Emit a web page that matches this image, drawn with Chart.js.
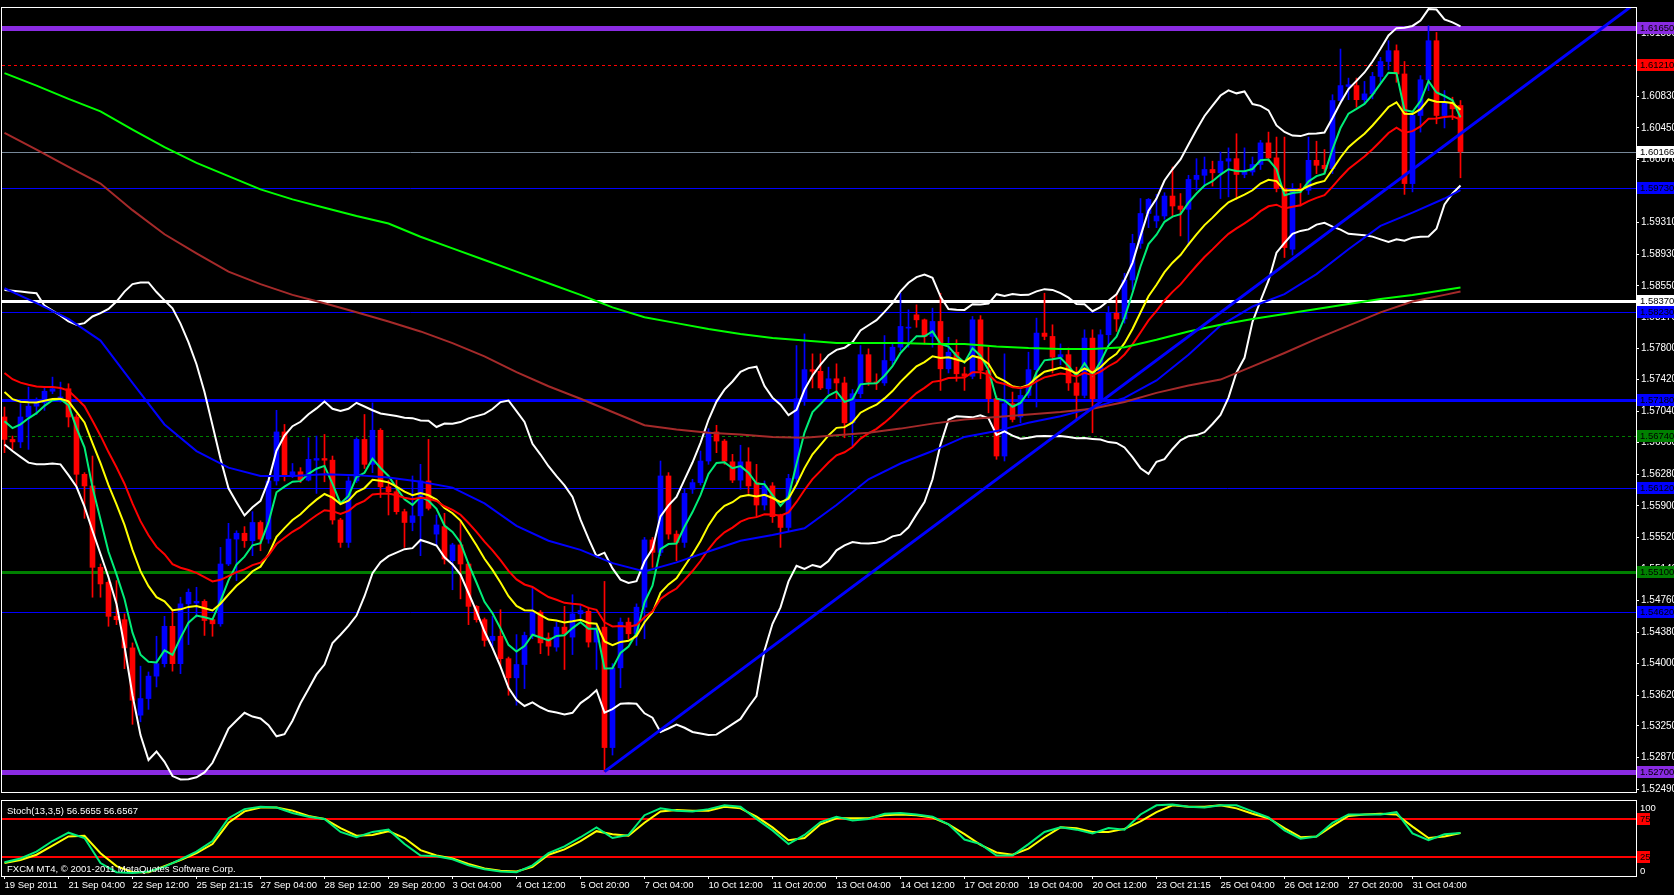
<!DOCTYPE html>
<html>
<head>
<meta charset="utf-8">
<script src="https://cdn.jsdelivr.net/npm/chart.js@4.4.0/dist/chart.umd.min.js"></script>
<style>
html, body { margin: 0; padding: 0; background: #000; overflow: hidden; }
#wrap { position: relative; width: 1674px; height: 895px; }
#main { position: absolute; left: 0; top: 0; }
#stoch { position: absolute; left: 0; top: 800px; }
</style>
</head>
<body>
<div id="wrap">
  <canvas id="main" width="1674" height="800"></canvas>
  <canvas id="stoch" width="1674" height="95"></canvas>
</div>
<script>
/*
GBPUSD H4 - MT4 style chart
candles + EMA 5/13/21 + BB(20,2) + Stoch(13,3,5)
*/

// H4 candles, one value per bar
var opens = [
  1.5697,1.5670,1.5667,1.5697,1.5710,1.5714,1.5728,1.5720,1.5731,1.5697,
  1.5628,1.5614,1.5516,1.5498,1.5457,1.5453,1.5419,1.5338,1.5358,1.5385,
  1.5400,1.5445,1.5400,1.5472,1.5473,1.5475,1.5453,1.5448,1.5520,1.5550,
  1.5557,1.5548,1.5570,1.5550,1.5620,1.5679,1.5627,1.5631,1.5621,1.5645,
  1.5647,1.5645,1.5573,1.5546,1.5620,1.5670,1.5640,1.5681,1.5613,1.5607,
  1.5583,1.5570,1.5578,1.5620,1.5556,1.5565,1.5524,1.5543,1.5520,1.5469,
  1.5453,1.5428,1.5433,1.5406,1.5383,1.5399,1.5434,1.5462,1.5431,1.5420,
  1.5444,1.5432,1.5460,1.5463,1.5426,1.5444,1.5299,1.5395,1.5450,1.5436,
  1.5468,1.5549,1.5534,1.5626,1.5556,1.5546,1.5610,1.5618,1.5644,1.5679,
  1.5668,1.5643,1.5621,1.5643,1.5618,1.5591,1.5614,1.5579,1.5564,1.5623,
  1.5719,1.5754,1.5752,1.5731,1.5743,1.5738,1.5690,1.5725,1.5772,1.5739,
  1.5738,1.5765,1.5781,1.5804,1.5820,1.5814,1.5794,1.5812,1.5755,1.5775,
  1.5749,1.5746,1.5814,1.5753,1.5719,1.5650,1.5713,1.5697,1.5723,1.5754,
  1.5798,1.5794,1.5769,1.5772,1.5738,1.5723,1.5792,1.5719,1.5796,1.5822,
  1.5815,1.5862,1.5906,1.5942,1.5933,1.5939,1.5963,1.5951,1.5947,1.5983,
  1.5988,1.5995,1.5991,1.6005,1.6008,1.5989,1.5992,1.6001,1.6027,1.6009,
  1.5972,1.5899,1.5972,1.5970,1.6006,1.6000,1.5996,1.6078,1.6095,1.6096,
  1.6079,1.6086,1.6107,1.6125,1.6138,1.6110,1.5978,1.6060,1.6103,1.6150,
  1.6060,1.6075,1.6072
];
var highs = [
  1.5709,1.5674,1.5713,1.5733,1.5720,1.5733,1.5745,1.5739,1.5737,1.5700,
  1.5630,1.5650,1.5520,1.5500,1.5500,1.5460,1.5425,1.5397,1.5390,1.5433,
  1.5457,1.5465,1.5480,1.5490,1.5492,1.5477,1.5455,1.5540,1.5569,1.5560,
  1.5565,1.5583,1.5572,1.5625,1.5705,1.5688,1.5641,1.5636,1.5672,1.5674,
  1.5676,1.5650,1.5575,1.5625,1.5672,1.5700,1.5714,1.5683,1.5621,1.5621,
  1.5586,1.5626,1.5640,1.5670,1.5579,1.5581,1.5545,1.5572,1.5522,1.5470,
  1.5455,1.5457,1.5465,1.5408,1.5435,1.5438,1.5491,1.5464,1.5437,1.5450,
  1.5469,1.5483,1.5470,1.5468,1.5448,1.5499,1.5400,1.5455,1.5455,1.5472,
  1.5552,1.5552,1.5644,1.5630,1.5560,1.5610,1.5622,1.5656,1.5683,1.5687,
  1.5670,1.5652,1.5663,1.5660,1.5640,1.5620,1.5618,1.5580,1.5628,1.5783,
  1.5797,1.5773,1.5773,1.5757,1.5761,1.5745,1.5730,1.5783,1.5779,1.5749,
  1.5795,1.5785,1.5846,1.5826,1.5832,1.5815,1.5828,1.5846,1.5793,1.5790,
  1.5757,1.5818,1.5819,1.5781,1.5722,1.5773,1.5727,1.5730,1.5775,1.5816,
  1.5846,1.5808,1.5785,1.5780,1.5757,1.5802,1.5802,1.5802,1.5830,1.5845,
  1.5870,1.5917,1.5960,1.5960,1.5965,1.5967,1.5998,1.5966,1.5988,1.6008,
  1.6010,1.6005,1.6016,1.6021,1.6038,1.6021,1.6010,1.6030,1.6040,1.6034,
  1.6034,1.5978,1.5978,1.6034,1.6029,1.6019,1.6085,1.6140,1.6105,1.6105,
  1.6101,1.6112,1.6130,1.6150,1.6145,1.6125,1.6065,1.6108,1.6168,1.6160,
  1.6090,1.6082,1.6078
];
var lows = [
  1.5654,1.5658,1.5660,1.5658,1.5700,1.5705,1.5725,1.5715,1.5685,1.5614,
  1.5575,1.5480,1.5480,1.5445,1.5447,1.5394,1.5327,1.5330,1.5345,1.5372,
  1.5396,1.5391,1.5388,1.5423,1.5456,1.5434,1.5433,1.5445,1.5518,1.5500,
  1.5540,1.5530,1.5536,1.5545,1.5615,1.5620,1.5624,1.5618,1.5620,1.5605,
  1.5619,1.5568,1.5540,1.5540,1.5618,1.5635,1.5630,1.5600,1.5579,1.5580,
  1.5540,1.5560,1.5530,1.5585,1.5543,1.5520,1.5489,1.5478,1.5447,1.5450,
  1.5421,1.5421,1.5397,1.5362,1.5350,1.5370,1.5430,1.5412,1.5410,1.5415,
  1.5393,1.5411,1.5455,1.5420,1.5393,1.5270,1.5290,1.5371,1.5430,1.5422,
  1.5430,1.5516,1.5530,1.5550,1.5524,1.5540,1.5605,1.5615,1.5640,1.5654,
  1.5640,1.5618,1.5610,1.5605,1.5577,1.5585,1.5570,1.5540,1.5560,1.5618,
  1.5711,1.5732,1.5730,1.5725,1.5719,1.5672,1.5662,1.5720,1.5735,1.5730,
  1.5735,1.5760,1.5777,1.5781,1.5805,1.5785,1.5781,1.5729,1.5750,1.5740,
  1.5729,1.5743,1.5743,1.5702,1.5646,1.5644,1.5691,1.5690,1.5720,1.5709,
  1.5790,1.5750,1.5760,1.5729,1.5694,1.5720,1.5678,1.5715,1.5785,1.5800,
  1.5810,1.5850,1.5900,1.5925,1.5925,1.5935,1.5939,1.5915,1.5903,1.5970,
  1.5975,1.5975,1.5960,1.5962,1.5959,1.5985,1.5988,1.5995,1.6005,1.5968,
  1.5889,1.5892,1.5951,1.5965,1.5990,1.5990,1.5990,1.6075,1.6079,1.6070,
  1.6075,1.6080,1.6100,1.6115,1.6100,1.5965,1.5968,1.6040,1.6090,1.6050,
  1.6045,1.6055,1.5985
];
var closes = [
  1.5670,1.5667,1.5697,1.5710,1.5714,1.5728,1.5731,1.5721,1.5697,1.5628,
  1.5614,1.5516,1.5496,1.5457,1.5453,1.5419,1.5356,1.5358,1.5385,1.5400,
  1.5445,1.5400,1.5472,1.5486,1.5475,1.5452,1.5448,1.5520,1.5550,1.5557,
  1.5548,1.5570,1.5550,1.5620,1.5679,1.5627,1.5631,1.5621,1.5646,1.5647,
  1.5645,1.5573,1.5546,1.5620,1.5670,1.5640,1.5681,1.5613,1.5607,1.5583,
  1.5570,1.5578,1.5620,1.5587,1.5567,1.5526,1.5543,1.5520,1.5469,1.5453,
  1.5428,1.5433,1.5406,1.5383,1.5399,1.5434,1.5462,1.5425,1.5421,1.5444,
  1.5436,1.5460,1.5464,1.5426,1.5442,1.5299,1.5395,1.5450,1.5436,1.5468,
  1.5549,1.5534,1.5626,1.5556,1.5546,1.5605,1.5618,1.5644,1.5679,1.5668,
  1.5644,1.5621,1.5643,1.5614,1.5591,1.5614,1.5577,1.5564,1.5623,1.5719,
  1.5754,1.5752,1.5732,1.5743,1.5738,1.5690,1.5725,1.5772,1.5739,1.5738,
  1.5765,1.5781,1.5806,1.5805,1.5814,1.5794,1.5812,1.5755,1.5775,1.5749,
  1.5746,1.5814,1.5753,1.5719,1.5650,1.5713,1.5694,1.5723,1.5754,1.5798,
  1.5794,1.5769,1.5772,1.5738,1.5723,1.5792,1.5719,1.5796,1.5822,1.5815,
  1.5862,1.5906,1.5942,1.5959,1.5939,1.5963,1.5951,1.5947,1.5983,1.5988,
  1.5995,1.5991,1.6005,1.6008,1.5989,1.5992,1.6001,1.6027,1.6009,1.5972,
  1.5901,1.5972,1.5970,1.6006,1.6000,1.5996,1.6078,1.6096,1.6097,1.6079,
  1.6086,1.6107,1.6125,1.6138,1.6110,1.5978,1.6060,1.6103,1.6150,1.6060,
  1.6075,1.6068,1.60166
];

// slow moving averages, read every 4 bars (last one on the last bar)
var maStep = 4;
var sma200 = [1.6111,1.6096,1.6080,1.6065,1.6043,1.6022,1.6003,1.5987,1.5971,1.5959,
  1.5949,1.5939,1.5930,1.5914,1.5900,1.5886,1.5872,1.5858,1.5844,1.5829,
  1.5817,1.5810,1.5803,1.5797,1.5792,1.5789,1.5786,1.5786,1.5786,1.5785,
  1.5785,1.5782,1.5780,1.5779,1.5779,1.5781,1.5790,1.5800,1.5808,1.5815,
  1.5821,1.5827,1.5833,1.5839,1.5844,1.5850,1.5853];
var ema200 = [1.6039,1.6019,1.5998,1.5978,1.5946,1.5917,1.5894,1.5872,1.5857,1.5844,
  1.5834,1.5823,1.5812,1.5800,1.5786,1.5770,1.5751,1.5734,1.5719,1.5703,
  1.5687,1.5682,1.5678,1.5676,1.5673,1.5672,1.5675,1.5678,1.5683,1.5689,
  1.5694,1.5697,1.5700,1.5703,1.5707,1.5715,1.5726,1.5735,1.5742,1.5758,
  1.5774,1.5791,1.5807,1.5823,1.5836,1.5844,1.5848];
var ema55 = [1.5852,1.5834,1.5815,1.5789,1.5738,1.5688,1.5656,1.5636,1.5626,1.5626,
  1.5628,1.5627,1.5624,1.5619,1.5612,1.5593,1.5566,1.5548,1.5537,1.5521,
  1.5511,1.5522,1.5535,1.5548,1.5555,1.5563,1.5591,1.5622,1.5641,1.5656,
  1.5673,1.5680,1.5690,1.5698,1.5708,1.5720,1.5741,1.5772,1.5807,1.5830,
  1.5845,1.5869,1.5899,1.5927,1.5943,1.5960,1.5970];

// fast EMAs: periods and their value on the first bar
var emaPeriods = [5, 13, 21];
var emaStart = [1.5692, 1.5727, 1.5750];

// Bollinger (20, 2); first 19 bars
var bbPeriod = 20, bbDev = 2;
var bbUpperHead = [1.5850,1.5849,1.5848,1.5847,1.5846,1.5831,1.5825,1.5819,1.5812,1.5808,
  1.5810,1.5818,1.5822,1.5827,1.5836,1.5848,1.5857,1.5859,1.5859];
var bbLowerHead = [1.5664,1.5656,1.5649,1.5642,1.5640,1.5640,1.5641,1.5640,1.5627,1.5613,
  1.5589,1.5560,1.5532,1.5504,1.5472,1.5421,1.5362,1.5314,1.5284];

// trendline from the 5 Oct low
var trendPoints = [[75, 1.5270], [204, 1.6196]];

// horizontal levels
var levelPrices = [1.61650, 1.61210, 1.59730, 1.58370, 1.58230, 1.57180, 1.56740, 1.56120, 1.55100, 1.54620, 1.52700];
var levelStyles = [
  {color: '#8A2BE2', width: 5},
  {color: '#FF0000', width: 1, dash: [3, 3]},
  {color: '#0000FF', width: 1},
  {color: '#FFFFFF', width: 3},
  {color: '#0000FF', width: 1},
  {color: '#0000FF', width: 3},
  {color: '#008000', width: 1, dash: [3, 3]},
  {color: '#0000FF', width: 1},
  {color: '#008000', width: 3},
  {color: '#0000FF', width: 1},
  {color: '#8A2BE2', width: 5}
];

// price axis
var priceMin = 1.52455, priceMax = 1.61894;
var priceTicks = [1.61590,1.61210,1.60830,1.60450,1.60070,1.59690,1.59310,1.58930,1.58550,1.58170,
  1.57800,1.57420,1.57040,1.56660,1.56280,1.55900,1.55520,1.55140,1.54760,1.54380,
  1.54000,1.53620,1.53250,1.52870,1.52490];

// time axis
var barsPerLabel = 8;
var dateLabels = ['19 Sep 2011','21 Sep 04:00','22 Sep 12:00','25 Sep 21:15','27 Sep 04:00','28 Sep 12:00',
  '29 Sep 20:00','3 Oct 04:00','4 Oct 12:00','5 Oct 20:00','7 Oct 04:00','10 Oct 12:00','11 Oct 20:00',
  '13 Oct 04:00','14 Oct 12:00','17 Oct 20:00','19 Oct 04:00','20 Oct 12:00','23 Oct 21:15','25 Oct 04:00',
  '26 Oct 12:00','27 Oct 20:00','31 Oct 04:00'];

// Stochastic (13,3,5), read every 2 bars
var stochStep = 2;
var stochMain = [18,23,32,46,57,50,17,5,4,6, 12,22,32,46,76,88,91,90,83,78,
  75,58,51,58,61,42,27,26,22,14, 9,6,5,14,30,39,51,64,50,54,
  80,89,86,85,88,93,91,75,60,42, 54,71,78,73,75,82,83,81,78,68,
  48,42,27,27,42,58,64,61,56,63, 61,81,93,94,91,90,93,93,85,77,
  60,49,52,70,81,81,81,84,56,47, 55,56.5655];
var stochSignal = [17,21,28,40,52,53,30,13,5,5, 13,21,30,42,70,85,90,90,86,79,
  75,63,53,54,59,50,34,27,23,16, 10,7,6,12,28,35,46,59,55,53,
  70,85,87,86,86,91,89,78,64,47, 50,68,76,76,76,80,81,80,77,68,
  55,41,31,28,36,51,64,63,58,58, 62,72,84,93,91,91,93,89,82,76,
  63,51,52,66,79,81,82,81,65,50, 52,56.6567];
var stochLevels = [75, 25];
var stochAxis = [100, 0];

var FAMILY = "'Liberation Sans', Arial, sans-serif";
var FSIZE = 9.5;
var FONT = FSIZE + 'px ' + FAMILY;
var lastBar = closes.length - 1;
var xMin = -0.3125, xMax = 203.9375;

function ema(period, start) {
  var k = 2 / (period + 1), v = start;
  return closes.map(function (c, i) {
    if (i > 0) v = v + k * (c - v);
    return {x: i, y: v};
  });
}

function band(sign) {
  return closes.map(function (c, i) {
    if (i < bbPeriod - 1) return {x: i, y: sign > 0 ? bbUpperHead[i] : bbLowerHead[i]};
    var win = closes.slice(i - bbPeriod + 1, i + 1);
    var m = win.reduce(function (a, b) { return a + b; }, 0) / bbPeriod;
    var sd = Math.sqrt(win.reduce(function (a, b) { return a + (b - m) * (b - m); }, 0) / bbPeriod);
    return {x: i, y: m + sign * bbDev * sd};
  });
}

function sampled(arr) {
  return arr.map(function (v, i) { return {x: Math.min(i * maStep, lastBar), y: v}; });
}

function lineDs(data, color, width, order) {
  return {type: 'line', data: data, borderColor: color, borderWidth: width, pointRadius: 0,
    tension: 0, fill: false, order: order};
}

function candleColor(c) {
  var i = c.dataIndex;
  return closes[i] >= opens[i] ? '#0000FF' : '#FF0000';
}

var bodies = closes.map(function (c, i) { return {x: i, y: [opens[i], c]}; });
var wicks = closes.map(function (c, i) { return {x: i, y: [lows[i], highs[i]]}; });

function hline(ctx, area, y, st) {
  ctx.save();
  ctx.beginPath();
  ctx.rect(area.left, area.top, area.right - area.left, area.bottom - area.top);
  ctx.clip();
  ctx.strokeStyle = st.color;
  ctx.lineWidth = st.width;
  ctx.setLineDash(st.dash || []);
  var yy = st.width % 2 ? Math.round(y) + 0.5 : Math.round(y);
  ctx.beginPath();
  ctx.moveTo(area.left, yy);
  ctx.lineTo(area.right, yy);
  ctx.stroke();
  ctx.restore();
}

function priceBox(ctx, y, text, bg, x0, w) {
  ctx.save();
  ctx.fillStyle = bg;
  ctx.fillRect(x0, Math.round(y) - 6, w, 12);
  ctx.fillStyle = '#000';
  ctx.font = FONT;
  ctx.textBaseline = 'middle';
  ctx.textAlign = 'left';
  ctx.fillText(text, x0 + 3, Math.round(y) + 0.5);
  ctx.restore();
}

var mainPlugin = {
  id: 'mt4main',
  beforeDatasetsDraw: function (chart) {
    var ctx = chart.ctx, area = chart.chartArea, ys = chart.scales.y;
    levelPrices.forEach(function (p, i) { hline(ctx, area, ys.getPixelForValue(p), levelStyles[i]); });
    hline(ctx, area, ys.getPixelForValue(closes[lastBar]), {color: '#778899', width: 1});
  },
  afterDraw: function (chart) {
    var ctx = chart.ctx, area = chart.chartArea, ys = chart.scales.y;
    ctx.save();
    ctx.strokeStyle = '#FFFFFF';
    ctx.lineWidth = 1;
    ctx.strokeRect(area.left - 0.5, area.top - 0.5, area.right - area.left + 1, area.bottom - area.top + 1);
    ctx.restore();
    levelPrices.forEach(function (p, i) {
      priceBox(ctx, ys.getPixelForValue(p), p.toFixed(5), levelStyles[i].color, area.right + 1, 40);
    });
    priceBox(ctx, ys.getPixelForValue(closes[lastBar]), closes[lastBar].toFixed(5), '#FFFFFF', area.right + 1, 40);
  }
};

new Chart(document.getElementById('main'), {
  type: 'bar',
  data: {
    datasets: [
      {data: wicks, backgroundColor: candleColor, barThickness: 1, grouped: false, order: 3},
      {data: bodies, backgroundColor: candleColor, barThickness: 5, grouped: false, minBarLength: 1, order: 2},
      lineDs(sampled(sma200), '#00FF00', 2, 1),
      lineDs(sampled(ema200), '#A52A2A', 2, 1),
      lineDs(sampled(ema55), '#0000FF', 2, 1),
      lineDs(band(1), '#FFFFFF', 2, 1),
      lineDs(band(-1), '#FFFFFF', 2, 1),
      lineDs(ema(emaPeriods[2], emaStart[2]), '#FF0000', 2, 1),
      lineDs(ema(emaPeriods[1], emaStart[1]), '#FFFF00', 2, 1),
      lineDs(ema(emaPeriods[0], emaStart[0]), '#00EE78', 2, 1),
      lineDs(trendPoints.map(function (p) { return {x: p[0], y: p[1]}; }), '#0000FF', 3, 0)
    ]
  },
  options: {
    responsive: false,
    animation: false,
    events: [],
    layout: {padding: {left: 2, top: 2, right: 0, bottom: 2}},
    plugins: {legend: {display: false}, tooltip: {enabled: false}},
    scales: {
      x: {type: 'linear', min: xMin, max: xMax, offset: false, display: false},
      y: {
        type: 'linear', position: 'right', min: priceMin, max: priceMax,
        afterBuildTicks: function (s) { s.ticks = priceTicks.map(function (v) { return {value: v}; }); },
        afterFit: function (s) { s.width = 38; },
        ticks: {color: '#FFFFFF', font: {family: FAMILY, size: 10}, padding: 2,
          autoSkip: false, callback: function (v) { return v.toFixed(5); }},
        grid: {drawOnChartArea: false, color: '#FFFFFF', tickLength: 3},
        border: {display: true, color: '#FFFFFF'}
      }
    }
  },
  plugins: [mainPlugin]
});

var stochPlugin = {
  id: 'mt4stoch',
  beforeDatasetsDraw: function (chart) {
    var ctx = chart.ctx, area = chart.chartArea, ys = chart.scales.y;
    stochLevels.forEach(function (v) { hline(ctx, area, ys.getPixelForValue(v), {color: '#FF0000', width: 2}); });
  },
  afterDraw: function (chart) {
    var ctx = chart.ctx, area = chart.chartArea, ys = chart.scales.y;
    ctx.save();
    ctx.strokeStyle = '#FFFFFF';
    ctx.lineWidth = 1;
    ctx.strokeRect(area.left - 0.5, area.top + 0.5, area.right - area.left + 1, area.bottom - area.top);
    ctx.fillStyle = '#FFFFFF';
    ctx.font = FONT;
    ctx.textBaseline = 'middle';
    ctx.fillText('Stoch(13,3,5) ' + stochMain[stochMain.length - 1].toFixed(4) + ' ' +
      stochSignal[stochSignal.length - 1].toFixed(4), area.left + 5, area.top + 11);
    ctx.fillText('FXCM MT4, \u00A9 2001-2011 MetaQuotes Software Corp.', area.left + 5, area.bottom - 7);
    ctx.fillText(String(stochAxis[0]), area.right + 4, ys.getPixelForValue(stochAxis[0]) + 8);
    ctx.fillText(String(stochAxis[1]), area.right + 4, ys.getPixelForValue(stochAxis[1]) - 5);
    ctx.restore();
    stochLevels.forEach(function (v) {
      priceBox(ctx, ys.getPixelForValue(v), String(v), '#FF0000', area.right + 1, 13);
    });
  }
};

function stochPts(arr) {
  return arr.map(function (v, i) { return {x: i * stochStep, y: v}; });
}

new Chart(document.getElementById('stoch'), {
  type: 'line',
  data: {
    datasets: [
      lineDs(stochPts(stochSignal), '#FFFF00', 2, 2),
      lineDs(stochPts(stochMain), '#00EE78', 2, 1)
    ]
  },
  options: {
    responsive: false,
    animation: false,
    events: [],
    layout: {padding: {left: 2, top: 0, right: 38, bottom: 0}},
    plugins: {legend: {display: false}, tooltip: {enabled: false}},
    scales: {
      x: {
        type: 'linear', min: xMin, max: xMax, offset: false, position: 'bottom',
        afterBuildTicks: function (s) {
          s.ticks = dateLabels.map(function (t, k) { return {value: k * barsPerLabel}; });
        },
        afterFit: function (s) { s.height = 19; },
        ticks: {color: '#FFFFFF', font: {family: FAMILY, size: FSIZE},
          align: 'start', maxRotation: 0, autoSkip: false, padding: 1,
          callback: function (v, k) { return dateLabels[k]; }},
        grid: {drawOnChartArea: false, color: '#FFFFFF', tickLength: 3},
        border: {display: true, color: '#FFFFFF'}
      },
      y: {type: 'linear', min: 0, max: 100, display: false}
    }
  },
  plugins: [stochPlugin]
});
</script>
</body>
</html>
